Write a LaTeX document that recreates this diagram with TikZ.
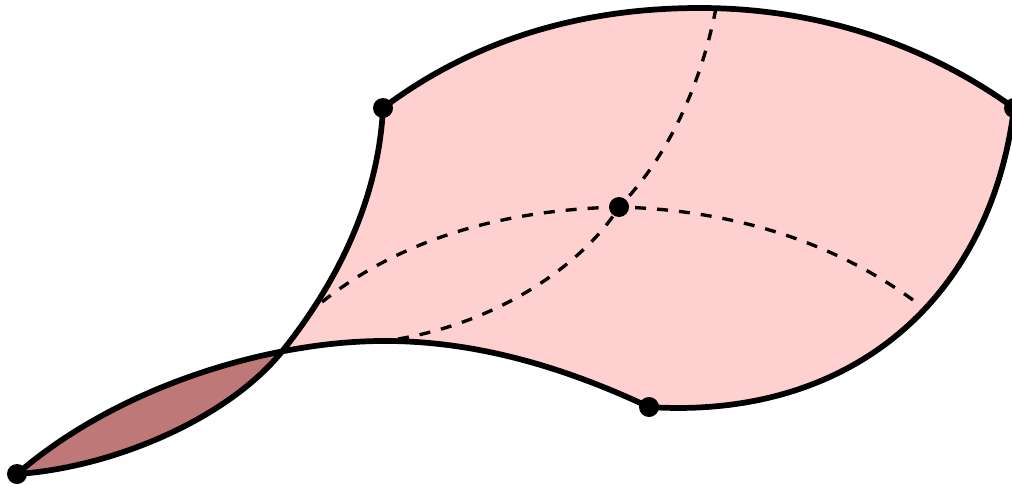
\documentclass[tikz,border=0pt]{standalone}
\usepackage{xcolor}
\definecolor{sheetpink}{RGB}{255,208,208}
\definecolor{sheetdark}{RGB}{190,120,120}
\tikzset{every picture/.style={line width=0.75pt}}
\tikzset{
  vertexdot/.style={circle,fill=black,inner sep=0pt,minimum size=15pt},
  edgeline/.style={line width=4.3pt},
  seamline/.style={line width=2.5pt,dash pattern={on 8.25pt off 8.25pt}},
}

\begin{document}
\begin{tikzpicture}[x=0.75pt,y=0.75pt,yscale=-1,xscale=1]
	\useasboundingbox (0,0) rectangle (1012,485);
	\clip (0,0) rectangle (1012,485);
	
	% Corner points
	\coordinate (topleft) at (383,108);
	\coordinate (topright) at (1014,108);
	\coordinate (bottom) at (649,407);
	\coordinate (tail) at (17,474);
	\coordinate (hub) at (619,207);
	\coordinate (saddle) at (380,341);
	\coordinate (crossing) at (284,349);
	\coordinate (seamtop) at (716,8);
	\coordinate (seamright) at (913,300);
	\coordinate (seamleft) at (322,302);
	\coordinate (seamlow) at (398,339);
	
	% Sheet
	\fill [sheetpink] (topleft) .. controls (480,35) and (590,8) .. (700,8) .. controls (810,8) and (920,40) .. (topright) .. controls (990,300) and (850,420) .. (bottom) .. controls (560,365) and (470,340) .. (saddle) -- (crossing) .. controls (345,272) and (379,190) .. (topleft) -- cycle;
	\fill [sheetpink] (saddle) .. controls (345,341) and (310,345) .. (crossing) -- cycle;
	% Folded part
	\begin{scope}
		\clip (0,330) rectangle (284,485);
		\fill [sheetdark] (saddle) .. controls (270,342) and (120,385) .. (tail) .. controls (110,468) and (228,420) .. (crossing) -- cycle;
	\end{scope}
	
	% Seams
	\draw [seamline] (seamtop) .. controls (700,90) and (665,160) .. (hub);
	\draw [seamline] (seamlow) .. controls (510,320) and (590,255) .. (hub);
	\draw [seamline] (seamleft) .. controls (400,240) and (500,210) .. (hub);
	\draw [seamline] (seamright) .. controls (830,240) and (730,210) .. (hub);
	
	% Outline
	\draw [edgeline] (topleft) .. controls (480,35) and (590,8) .. (700,8) .. controls (810,8) and (920,40) .. (topright);
	\draw [edgeline] (topright) .. controls (990,300) and (850,420) .. (bottom);
	\draw [edgeline] (bottom) .. controls (560,365) and (470,340) .. (saddle) .. controls (270,342) and (120,385) .. (tail);
	\draw [edgeline] (topleft) .. controls (379,190) and (345,272) .. (crossing) .. controls (228,420) and (110,468) .. (tail);
	
	% Points
	\node [vertexdot] (topleftdot) at (topleft) {};
	\node [vertexdot] (toprightdot) at (topright) {};
	\node [vertexdot] (bottomdot) at (bottom) {};
	\node [vertexdot] (taildot) at (tail) {};
	\node [vertexdot] (hubdot) at (hub) {};
\end{tikzpicture}
\end{document}
